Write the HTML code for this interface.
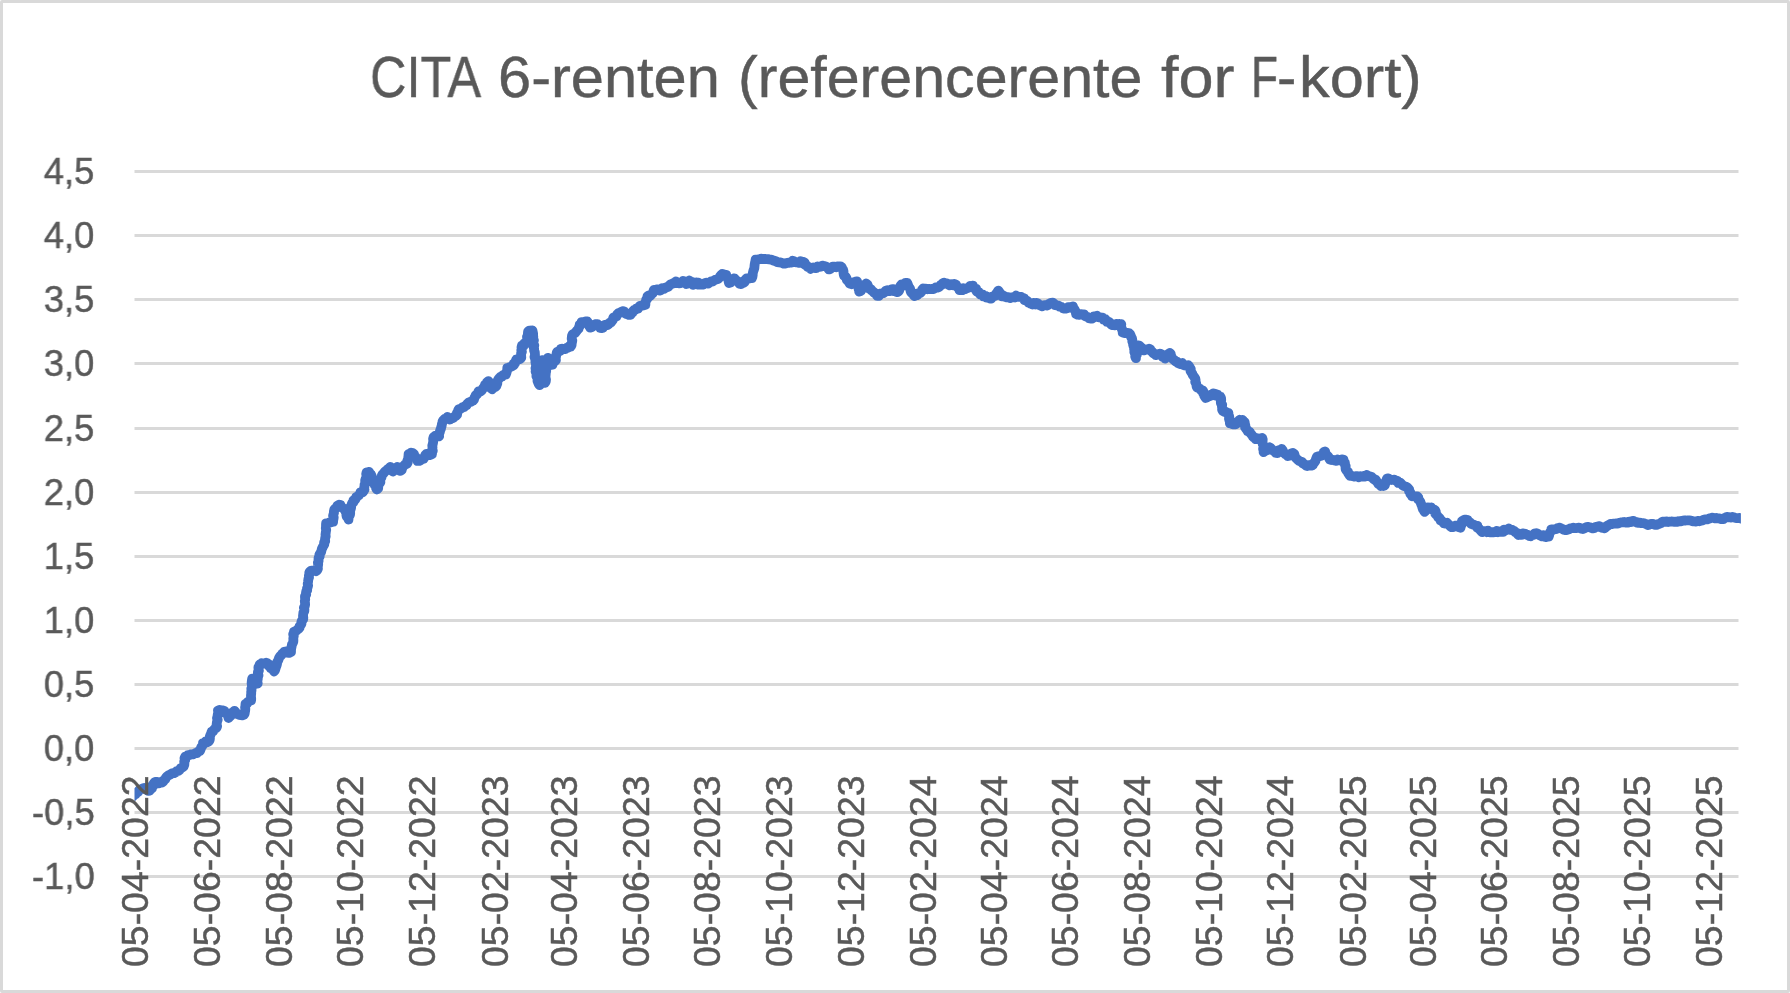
<!DOCTYPE html>
<html><head><meta charset="utf-8"><title>CITA 6-renten</title>
<style>
html,body{margin:0;padding:0;background:#fff}
body{width:1790px;height:993px;position:relative;overflow:hidden;font-family:"Liberation Sans",sans-serif;color:#595959;-webkit-text-stroke:0.45px #595959}
#frame{position:absolute;left:0;top:0;width:1784px;height:987px;border:3px solid #d9d9d9;border-radius:2px;background:#fff}
svg{position:absolute;left:0;top:0}
.tw{position:absolute;top:48.20px;font-size:58px;line-height:58px;height:58px;white-space:pre;transform-origin:0 0}
.yl,.xl,.tw{will-change:transform}
.yl{position:absolute;right:1695.3px;font-size:37px;line-height:37px;height:37px;white-space:pre;transform-origin:100% 0;transform:scaleX(0.985)}
.xl{position:absolute;top:966.8px;font-size:37px;line-height:37px;height:37px;white-space:pre;transform-origin:0 0;transform:rotate(-90deg) scaleX(1.012)}
</style></head>
<body>
<div id="frame"></div>
<svg width="1790" height="993" viewBox="0 0 1790 993">
<g stroke="#d9d9d9" stroke-width="3" fill="none"><line x1="134.5" x2="1738.5" y1="171.50" y2="171.50"/><line x1="134.5" x2="1738.5" y1="235.50" y2="235.50"/><line x1="134.5" x2="1738.5" y1="299.50" y2="299.50"/><line x1="134.5" x2="1738.5" y1="363.50" y2="363.50"/><line x1="134.5" x2="1738.5" y1="428.50" y2="428.50"/><line x1="134.5" x2="1738.5" y1="492.50" y2="492.50"/><line x1="134.5" x2="1738.5" y1="556.50" y2="556.50"/><line x1="134.5" x2="1738.5" y1="620.50" y2="620.50"/><line x1="134.5" x2="1738.5" y1="684.50" y2="684.50"/><line x1="134.5" x2="1738.5" y1="748.50" y2="748.50"/><line x1="134.5" x2="1738.5" y1="812.50" y2="812.50"/><line x1="134.5" x2="1738.5" y1="876.50" y2="876.50"/></g>
<defs><clipPath id="c"><rect x="134.5" y="150" width="1606.4" height="700"/></clipPath></defs>
<path clip-path="url(#c)" d="M126.9,801.4 L127.9,799.9 L129.8,799.5 L130.4,797.7 L132.2,797.2 L133.3,795.9 L134.5,794.7 L135.9,794.0 L136.5,792.5 L138.1,792.0 L138.8,790.6 L139.9,789.6 L141.4,789.1 L142.5,788.5 L144.3,788.0 L145.7,788.6 L146.8,789.9 L148.1,790.9 L149.8,790.6 L150.5,789.2 L152.0,788.3 L151.6,786.3 L153.5,785.5 L153.5,783.8 L154.6,782.2 L156.1,781.8 L157.5,782.2 L159.0,783.2 L160.4,782.0 L161.9,782.6 L163.2,781.6 L164.0,780.1 L165.4,779.2 L166.0,777.5 L167.1,776.3 L168.4,775.3 L170.0,774.7 L171.3,773.8 L172.6,773.1 L174.2,773.1 L175.6,772.4 L176.7,771.1 L178.6,770.9 L179.8,769.7 L180.7,768.1 L182.3,767.6 L183.6,766.5 L184.3,764.9 L184.4,763.3 L184.2,761.6 L185.2,760.1 L184.5,758.3 L185.2,756.7 L186.8,756.7 L187.8,755.1 L189.5,755.2 L190.7,754.3 L192.5,754.4 L194.0,754.0 L195.4,753.1 L197.0,753.0 L198.1,751.5 L199.8,751.2 L200.4,749.9 L200.9,748.5 L201.3,747.1 L202.3,746.0 L203.0,744.7 L203.0,743.1 L204.5,743.0 L205.6,741.5 L207.3,742.3 L208.7,741.5 L209.7,740.0 L209.9,738.4 L209.8,736.6 L210.4,735.0 L211.1,733.5 L211.6,731.7 L213.2,731.1 L214.0,729.6 L215.1,728.5 L216.5,727.8 L217.1,726.2 L216.6,724.6 L216.8,723.0 L217.1,721.4 L217.7,719.8 L217.0,718.1 L217.5,716.5 L217.7,714.9 L218.1,713.3 L218.2,711.7 L218.0,710.5 L219.7,709.9 L221.4,710.3 L223.1,710.4 L224.5,711.0 L224.9,712.7 L226.7,713.5 L227.5,715.0 L228.2,716.5 L228.5,718.0 L229.6,716.9 L230.7,715.8 L231.3,714.3 L231.9,712.8 L233.3,712.0 L234.5,710.8 L235.5,712.0 L236.3,713.5 L237.8,714.2 L239.2,714.9 L240.8,715.1 L242.5,715.3 L243.9,714.9 L244.7,713.5 L244.9,711.9 L245.2,710.5 L245.3,708.9 L245.1,707.4 L245.4,705.9 L245.5,704.1 L247.0,703.8 L247.5,702.2 L248.6,701.4 L249.9,700.8 L251.1,700.4 L251.2,698.7 L251.0,697.0 L251.0,695.4 L251.2,693.7 L251.2,692.0 L251.5,690.4 L251.3,688.7 L252.1,687.1 L252.0,685.4 L251.6,683.7 L251.7,682.0 L251.9,680.4 L252.2,678.6 L253.6,679.2 L253.9,681.1 L254.9,682.2 L256.6,682.5 L257.7,683.5 L257.4,681.9 L257.5,680.3 L257.8,678.7 L257.8,677.0 L258.5,675.5 L257.9,673.8 L257.9,672.2 L258.9,670.6 L258.5,669.0 L258.4,667.3 L259.5,666.2 L259.6,664.6 L261.0,663.8 L261.7,663.1 L263.1,663.5 L264.5,663.4 L266.1,662.7 L267.5,663.3 L268.7,664.2 L268.9,666.0 L270.1,666.9 L270.8,668.3 L272.3,668.9 L273.3,670.0 L274.1,671.5 L275.1,670.1 L275.5,668.6 L276.0,667.0 L276.6,665.5 L277.0,664.0 L277.0,662.3 L277.9,660.9 L278.6,659.4 L279.1,657.8 L280.0,656.4 L281.3,655.2 L282.2,653.8 L283.6,652.8 L284.2,651.8 L285.9,651.4 L287.4,652.6 L289.1,652.9 L291.0,652.1 L291.0,650.6 L291.1,649.0 L291.4,647.5 L291.7,646.0 L292.0,644.5 L292.7,643.1 L293.3,641.6 L293.4,640.0 L293.3,638.6 L293.5,637.1 L293.8,635.7 L293.2,634.2 L293.9,632.8 L294.0,631.7 L295.3,631.3 L296.5,630.6 L297.5,629.6 L298.5,628.9 L299.6,627.7 L299.6,626.1 L300.8,624.9 L301.5,623.6 L301.4,621.9 L302.0,620.5 L303.2,619.3 L303.3,617.7 L303.0,616.0 L303.2,614.3 L303.4,612.7 L304.3,611.1 L304.4,609.4 L303.9,607.7 L304.8,606.1 L305.1,604.5 L305.0,602.8 L304.8,601.1 L305.2,599.4 L305.0,597.7 L305.0,596.1 L306.2,594.5 L306.0,592.8 L306.3,591.4 L307.2,590.1 L307.0,588.5 L307.7,587.1 L308.1,585.5 L307.7,583.8 L308.0,582.2 L308.2,580.6 L308.4,579.0 L309.0,577.5 L308.9,575.8 L309.3,574.2 L309.3,572.6 L309.9,571.4 L311.3,570.6 L312.8,570.6 L314.3,570.7 L315.8,571.2 L317.2,570.2 L317.9,568.7 L317.7,567.1 L318.0,565.6 L318.2,564.1 L317.9,562.5 L318.6,561.0 L318.5,559.4 L318.6,557.9 L319.7,556.5 L319.4,554.8 L320.2,553.4 L321.1,552.0 L321.5,550.4 L321.9,548.7 L322.7,547.3 L323.4,545.8 L324.3,544.4 L324.1,542.5 L325.2,541.2 L325.0,539.6 L325.2,538.0 L325.7,536.4 L325.5,534.7 L325.7,533.1 L325.9,531.5 L326.2,529.9 L325.8,528.3 L326.0,526.6 L326.0,525.0 L326.1,523.4 L327.5,523.4 L328.8,522.7 L330.2,522.5 L331.5,522.1 L333.1,521.8 L333.2,520.3 L333.5,518.8 L333.7,517.3 L333.1,515.8 L333.5,514.3 L334.0,512.8 L333.9,511.5 L334.3,509.6 L335.4,508.4 L336.8,507.4 L337.4,505.7 L339.1,504.7 L340.6,505.1 L341.2,506.8 L342.3,507.7 L343.4,508.7 L345.2,508.8 L345.2,510.5 L345.7,512.0 L346.8,513.3 L346.4,515.0 L346.7,516.6 L348.1,517.8 L348.5,519.5 L348.5,517.8 L349.0,516.2 L350.0,514.7 L350.2,513.0 L349.8,511.2 L350.5,509.7 L351.0,508.1 L351.2,506.4 L351.5,504.7 L352.1,503.1 L353.4,502.3 L353.5,500.4 L355.1,499.8 L355.8,498.6 L356.2,497.0 L357.6,496.2 L358.8,495.3 L359.8,494.1 L360.4,492.4 L362.6,492.4 L363.5,491.1 L364.5,489.6 L364.1,488.0 L364.5,486.5 L364.5,484.9 L365.5,483.5 L365.2,481.8 L365.2,480.3 L365.7,478.8 L366.5,477.3 L366.6,475.7 L366.2,474.1 L366.6,472.3 L368.2,473.0 L369.1,471.8 L369.5,473.4 L371.0,474.5 L371.7,476.0 L371.6,477.8 L372.6,479.2 L373.7,480.5 L373.3,482.4 L374.3,483.7 L374.8,485.3 L376.4,486.4 L376.1,488.3 L376.9,489.5 L378.2,488.2 L378.2,486.5 L378.6,485.0 L379.4,483.5 L380.4,482.2 L380.1,480.4 L380.5,478.8 L381.5,477.4 L381.8,475.8 L382.5,474.4 L383.6,473.3 L384.5,472.1 L385.7,471.1 L386.8,470.1 L387.8,469.0 L389.4,468.4 L390.2,466.9 L390.9,468.2 L392.1,469.1 L392.7,470.5 L393.0,471.6 L394.0,470.3 L394.7,468.9 L396.6,468.4 L397.3,467.0 L398.5,467.7 L399.0,469.0 L399.2,470.4 L400.4,470.9 L401.8,469.8 L402.1,468.2 L403.0,466.8 L403.9,465.7 L404.8,464.7 L405.9,464.3 L407.1,463.8 L407.8,462.3 L407.4,460.5 L408.2,459.0 L408.3,457.4 L408.5,455.7 L408.6,454.0 L409.9,453.5 L411.1,452.7 L412.8,453.1 L414.0,454.2 L413.9,455.9 L415.4,456.7 L416.3,457.9 L417.2,459.0 L417.6,460.9 L419.3,460.9 L420.8,460.1 L422.2,458.9 L423.7,458.8 L424.2,457.6 L425.0,456.5 L425.3,455.1 L426.3,454.0 L427.7,453.6 L429.1,455.0 L430.6,455.0 L432.0,454.1 L431.9,452.4 L432.8,450.8 L432.3,449.0 L432.5,447.3 L432.3,445.6 L432.8,443.9 L433.1,442.3 L433.3,440.6 L433.1,438.9 L433.6,437.2 L434.9,436.0 L436.3,436.3 L437.7,435.8 L439.1,436.4 L439.0,434.8 L439.3,433.2 L439.9,431.8 L440.2,430.2 L440.9,428.8 L441.2,427.2 L441.7,425.7 L441.9,424.2 L442.3,422.7 L442.6,421.4 L443.5,420.0 L444.7,418.9 L446.6,418.8 L447.5,416.9 L448.2,418.6 L449.8,419.6 L450.4,418.0 L452.4,418.4 L453.7,417.6 L454.6,416.4 L455.9,415.8 L457.1,414.7 L456.9,413.1 L457.8,411.8 L458.2,410.4 L458.7,409.3 L460.1,408.9 L461.4,408.3 L462.5,407.2 L464.1,407.1 L465.1,405.9 L466.5,405.3 L467.4,403.7 L468.5,402.6 L470.0,402.0 L471.5,401.5 L472.8,400.8 L474.0,399.7 L474.3,398.1 L475.0,396.8 L475.6,395.4 L476.9,394.5 L477.9,393.2 L478.5,391.5 L480.6,391.4 L481.8,390.3 L482.7,388.9 L483.6,387.6 L484.7,386.5 L484.9,384.7 L486.6,384.0 L486.9,382.3 L488.4,381.1 L489.1,382.4 L489.1,384.0 L490.5,385.0 L490.5,386.7 L490.8,388.2 L492.1,389.2 L493.0,388.2 L494.1,387.6 L495.3,387.1 L496.3,386.1 L496.8,384.7 L497.3,383.4 L497.2,381.7 L497.8,380.4 L498.5,379.1 L499.4,378.1 L500.4,376.9 L502.0,376.7 L502.8,375.2 L504.1,374.6 L505.7,374.7 L506.4,373.1 L506.8,371.6 L507.2,369.9 L507.3,368.1 L508.8,367.7 L510.2,367.0 L511.6,366.4 L512.8,365.8 L514.1,364.9 L513.8,363.3 L515.4,362.5 L515.6,361.4 L516.4,359.4 L518.2,359.3 L520.0,359.1 L521.3,357.8 L521.2,356.3 L521.1,354.8 L521.1,353.2 L521.9,351.8 L521.3,350.2 L521.8,348.7 L521.5,347.2 L521.9,345.7 L523.7,345.6 L524.2,343.5 L526.1,343.3 L526.3,341.7 L527.0,340.2 L527.2,338.5 L527.0,336.8 L528.1,335.3 L527.9,333.6 L528.1,331.6 L529.3,330.6 L531.0,330.9 L532.4,330.4 L532.8,332.1 L533.1,333.7 L533.1,335.4 L533.3,337.1 L532.9,338.8 L533.9,340.4 L533.3,342.1 L533.4,343.8 L534.3,345.4 L533.7,347.2 L534.1,348.8 L534.1,350.5 L534.8,352.1 L534.9,353.8 L535.0,355.4 L534.5,357.0 L535.1,358.6 L535.4,360.2 L535.4,361.8 L535.7,363.4 L536.0,365.0 L536.1,366.6 L535.5,368.3 L536.2,369.9 L535.6,371.5 L536.4,373.1 L536.5,374.7 L536.4,376.3 L537.3,377.6 L537.6,379.2 L537.5,380.9 L538.1,382.4 L538.7,383.9 L539.7,385.2 L540.2,383.6 L540.4,381.9 L540.1,380.2 L540.5,378.6 L539.9,376.8 L540.8,375.2 L540.7,373.5 L541.1,371.9 L541.2,370.2 L541.0,368.5 L540.9,366.8 L541.9,365.2 L541.3,363.5 L541.8,361.9 L542.1,360.2 L542.4,361.8 L542.2,363.5 L542.2,365.1 L543.2,366.6 L543.0,368.3 L543.6,369.9 L543.5,371.5 L543.9,373.1 L544.4,374.7 L544.6,376.3 L544.8,377.9 L544.3,379.6 L545.0,381.2 L545.1,382.8 L545.8,381.2 L546.0,379.5 L545.6,377.8 L545.5,376.1 L545.7,374.4 L545.8,372.8 L546.2,371.1 L546.1,369.4 L546.4,367.8 L546.6,366.1 L547.1,364.5 L547.6,362.8 L547.6,361.2 L547.4,359.5 L547.8,357.8 L548.3,359.3 L549.1,360.7 L549.8,362.1 L550.8,363.4 L550.8,365.0 L552.4,364.7 L552.4,362.7 L553.8,362.2 L554.9,361.3 L555.9,360.2 L555.6,358.7 L555.9,357.2 L556.1,355.8 L556.5,354.3 L556.7,352.9 L557.2,351.8 L558.6,351.5 L560.0,351.1 L560.8,349.0 L562.1,348.6 L563.9,349.1 L565.5,349.1 L566.7,347.9 L568.2,347.6 L569.3,346.1 L570.9,346.5 L571.6,345.0 L571.7,343.5 L572.0,342.0 L572.3,340.5 L571.7,338.9 L571.8,337.4 L572.0,335.9 L572.6,334.4 L574.0,333.5 L575.4,332.7 L576.3,331.3 L577.3,330.1 L578.5,328.9 L578.9,327.5 L579.6,326.3 L579.6,324.7 L581.2,323.9 L581.5,322.1 L583.0,323.0 L584.3,322.3 L585.6,321.4 L587.3,321.5 L588.1,322.7 L588.2,324.2 L588.8,325.6 L590.2,326.5 L590.2,327.7 L591.5,327.2 L592.7,326.5 L593.6,325.4 L594.6,324.4 L595.9,324.1 L597.6,324.1 L598.4,325.3 L599.4,326.3 L600.0,327.9 L601.7,328.1 L603.0,327.7 L603.6,326.4 L604.4,325.2 L605.6,324.6 L607.4,325.0 L608.7,324.0 L609.8,322.7 L611.0,322.3 L611.9,321.2 L612.7,320.1 L613.0,318.7 L613.6,317.3 L615.1,316.8 L616.7,316.3 L617.2,314.4 L618.3,313.2 L619.9,312.7 L621.2,311.9 L622.5,311.2 L624.2,311.4 L624.9,313.2 L626.2,313.9 L627.7,314.3 L628.8,314.9 L630.6,314.8 L631.0,313.0 L632.6,312.7 L633.0,311.0 L634.1,310.1 L635.6,309.7 L636.3,308.4 L638.1,308.5 L638.7,307.1 L639.8,306.0 L641.1,305.6 L642.5,305.5 L643.9,305.4 L645.4,304.7 L645.2,302.9 L645.9,301.4 L646.2,299.7 L647.6,298.4 L647.4,296.3 L648.9,295.3 L650.5,295.7 L651.3,294.4 L652.6,293.4 L653.2,292.1 L653.6,290.7 L653.9,289.8 L655.3,290.3 L656.8,289.4 L658.3,289.3 L659.7,290.5 L661.2,290.0 L662.3,288.2 L664.2,288.8 L665.5,287.7 L666.9,287.2 L668.4,286.8 L669.3,285.5 L670.4,284.4 L671.9,283.9 L673.1,283.2 L675.0,283.1 L675.9,281.3 L676.4,283.0 L678.2,282.4 L678.9,283.4 L680.6,283.2 L682.0,282.3 L683.0,281.0 L684.7,281.5 L685.4,283.1 L686.4,284.1 L688.0,283.4 L688.1,281.5 L689.5,280.5 L689.8,282.0 L691.8,282.0 L692.2,283.4 L693.1,284.8 L694.4,284.4 L695.1,282.6 L696.9,282.5 L698.2,282.7 L698.5,284.7 L699.9,284.4 L701.7,284.7 L703.4,284.6 L704.8,283.1 L706.4,282.6 L708.3,283.5 L709.7,282.3 L711.0,281.3 L712.7,281.6 L713.9,280.4 L715.3,279.8 L716.6,279.4 L718.2,278.8 L719.4,277.7 L720.1,276.2 L720.9,275.3 L722.3,273.9 L723.8,274.4 L725.2,274.9 L726.3,275.0 L726.6,276.7 L727.7,278.1 L728.3,279.7 L728.6,281.4 L729.0,283.0 L730.6,282.6 L730.9,280.6 L732.7,280.5 L733.8,279.4 L734.4,278.3 L735.2,279.5 L736.4,280.5 L737.8,281.3 L738.7,282.5 L739.5,283.7 L740.9,284.1 L742.0,282.4 L743.3,282.9 L744.6,282.2 L744.8,280.7 L745.4,279.5 L746.6,278.4 L748.4,278.7 L749.9,278.0 L751.9,278.2 L752.4,276.8 L752.7,275.2 L752.7,273.7 L753.0,272.2 L753.4,270.7 L754.0,269.3 L754.4,267.7 L754.5,266.1 L754.7,264.4 L755.0,262.8 L755.4,261.2 L755.6,259.7 L757.0,259.6 L758.4,259.5 L759.8,259.1 L761.2,258.6 L762.8,259.2 L764.5,258.8 L766.1,259.2 L767.7,259.1 L769.3,259.4 L771.0,259.6 L772.6,260.2 L774.2,260.7 L775.8,261.2 L777.3,262.2 L778.9,262.4 L780.6,262.5 L782.2,262.9 L783.7,263.7 L785.4,263.6 L786.8,262.9 L788.4,262.9 L789.8,262.3 L791.5,262.6 L792.7,260.8 L794.2,261.4 L795.8,262.4 L797.5,262.3 L798.9,262.8 L800.3,261.1 L801.7,261.6 L803.3,261.8 L804.7,262.7 L805.0,264.8 L806.7,265.4 L807.5,266.9 L809.3,267.3 L810.5,268.9 L811.8,268.1 L813.2,267.4 L814.8,268.1 L816.4,268.1 L817.6,266.5 L819.2,266.9 L820.9,266.7 L822.4,265.7 L824.2,266.0 L825.7,266.4 L826.8,267.3 L827.9,268.1 L828.9,269.4 L830.4,269.0 L831.5,267.6 L832.7,266.6 L834.5,266.7 L836.0,267.3 L837.4,266.3 L838.9,266.5 L840.3,266.3 L841.6,266.9 L842.1,268.4 L843.1,269.7 L843.5,271.2 L843.5,272.7 L843.7,274.2 L844.1,275.8 L845.6,276.7 L846.5,278.1 L846.8,279.9 L848.0,281.0 L849.1,282.3 L849.7,283.6 L851.5,284.2 L852.6,282.5 L854.2,282.5 L855.6,281.6 L857.1,281.4 L857.0,283.0 L857.2,284.5 L858.3,285.8 L858.8,287.3 L858.6,288.9 L859.5,290.2 L859.2,291.6 L860.9,291.1 L861.2,289.4 L862.6,288.7 L863.0,287.1 L864.5,286.5 L864.9,284.9 L866.1,283.6 L867.5,284.4 L867.8,286.1 L868.7,287.3 L869.3,288.7 L871.0,289.2 L871.7,290.6 L873.1,291.4 L874.0,292.7 L875.5,293.3 L876.4,294.6 L877.2,295.9 L879.0,295.8 L879.8,293.6 L881.6,293.4 L883.3,293.1 L884.6,292.2 L885.8,290.8 L887.2,290.2 L889.1,291.2 L890.6,290.8 L891.7,289.4 L893.3,289.1 L894.0,291.1 L895.7,290.6 L896.6,292.1 L898.3,291.8 L899.2,290.5 L899.1,288.7 L900.5,287.6 L900.4,285.9 L901.4,284.5 L903.0,284.9 L904.4,284.4 L905.4,282.8 L907.2,282.9 L907.8,284.4 L908.3,285.9 L909.1,287.3 L910.0,288.6 L910.4,290.1 L910.7,291.5 L911.3,292.8 L913.2,293.2 L913.4,294.8 L914.4,296.1 L915.2,294.5 L917.2,295.1 L917.8,293.3 L919.5,293.4 L920.7,292.6 L921.7,291.4 L922.1,289.8 L923.1,288.5 L924.6,288.9 L926.1,288.7 L927.5,289.3 L929.0,289.0 L930.5,289.1 L931.8,289.0 L933.4,289.1 L934.7,288.3 L935.8,287.3 L937.5,287.7 L938.9,287.2 L940.0,286.2 L940.7,285.0 L942.0,284.6 L942.6,283.3 L944.2,282.7 L945.6,283.5 L947.2,283.5 L948.3,284.7 L949.7,285.4 L951.2,284.3 L953.0,285.3 L954.5,284.0 L956.1,284.7 L956.7,286.2 L957.8,287.4 L959.2,288.5 L959.4,290.2 L960.7,289.5 L962.5,290.2 L963.4,288.2 L965.2,289.1 L966.6,288.4 L967.9,287.9 L969.2,287.6 L970.1,286.0 L971.9,287.0 L972.9,285.6 L973.2,287.2 L974.2,288.3 L976.1,288.7 L976.2,290.5 L976.9,291.7 L978.9,292.0 L979.4,293.5 L980.6,294.7 L982.6,294.4 L983.5,296.4 L985.5,296.0 L986.5,297.6 L988.6,297.2 L989.8,298.5 L991.4,298.5 L992.1,296.7 L993.4,296.1 L994.9,295.9 L996.1,295.1 L996.2,293.7 L997.1,292.6 L997.7,291.4 L998.4,290.6 L999.3,292.0 L999.8,293.5 L1001.5,294.4 L1001.8,296.4 L1003.6,295.7 L1005.1,296.8 L1006.6,297.3 L1008.4,297.1 L1010.0,298.1 L1011.5,297.5 L1013.2,297.2 L1014.9,297.5 L1016.2,295.7 L1017.8,296.6 L1019.5,296.9 L1021.3,297.0 L1022.6,297.9 L1024.2,298.3 L1024.6,300.2 L1026.2,300.5 L1027.6,301.2 L1028.3,302.6 L1029.8,303.1 L1030.9,303.8 L1032.4,304.4 L1033.7,302.9 L1035.3,304.3 L1036.6,303.0 L1038.0,303.4 L1038.6,304.8 L1040.1,305.0 L1041.0,305.9 L1042.2,306.3 L1043.6,305.3 L1045.2,305.1 L1046.8,305.5 L1048.1,305.1 L1048.9,304.0 L1050.0,303.3 L1050.8,302.8 L1052.8,302.7 L1054.1,303.7 L1055.1,305.1 L1056.9,305.3 L1058.5,305.5 L1059.7,306.7 L1061.3,306.9 L1062.6,308.0 L1063.8,308.6 L1065.4,308.7 L1066.9,308.3 L1068.2,307.1 L1069.9,307.5 L1071.3,306.9 L1073.0,306.4 L1072.9,308.2 L1074.4,309.3 L1075.2,310.7 L1075.9,312.1 L1076.0,313.9 L1077.5,314.7 L1079.1,314.8 L1080.8,314.2 L1082.5,314.4 L1084.2,314.4 L1085.0,316.2 L1086.4,316.7 L1087.9,317.0 L1089.0,318.2 L1090.5,318.6 L1092.1,318.7 L1093.1,317.8 L1093.9,316.4 L1095.2,316.6 L1097.0,315.8 L1098.1,317.2 L1099.5,317.4 L1101.0,317.5 L1102.5,317.7 L1103.4,319.5 L1105.3,319.1 L1106.1,320.4 L1106.9,321.9 L1109.0,321.8 L1110.1,322.8 L1110.9,324.3 L1112.2,325.1 L1113.7,325.2 L1115.2,325.4 L1116.6,324.0 L1118.1,324.1 L1119.6,324.0 L1121.3,324.2 L1121.0,325.9 L1121.4,327.5 L1121.8,329.1 L1122.9,330.6 L1122.7,332.6 L1124.3,333.0 L1126.0,332.6 L1127.5,333.4 L1129.2,333.1 L1130.1,334.3 L1130.8,335.7 L1131.2,337.1 L1132.0,338.4 L1132.3,339.9 L1132.3,341.5 L1133.1,342.8 L1133.1,344.4 L1133.5,345.9 L1134.2,347.4 L1134.1,348.9 L1134.5,350.4 L1134.3,352.0 L1134.9,353.5 L1135.4,355.0 L1135.2,356.6 L1135.9,358.2 L1135.7,356.4 L1136.8,355.0 L1136.3,353.1 L1136.9,351.6 L1137.3,350.0 L1138.3,348.5 L1138.9,346.9 L1138.7,345.3 L1140.0,346.0 L1140.3,347.6 L1141.9,347.9 L1143.0,348.7 L1143.8,350.4 L1145.2,349.8 L1146.6,349.6 L1148.0,349.1 L1149.0,348.7 L1150.4,349.4 L1151.0,351.0 L1152.3,351.9 L1153.1,353.2 L1154.7,353.7 L1155.7,355.1 L1157.1,354.8 L1158.5,354.1 L1159.9,353.7 L1161.3,354.2 L1162.9,354.9 L1162.9,356.9 L1164.8,357.3 L1165.1,358.7 L1165.7,357.4 L1167.5,357.0 L1167.6,355.3 L1168.2,354.0 L1169.7,353.0 L1170.8,354.0 L1170.8,355.8 L1171.7,357.0 L1172.4,358.2 L1173.2,359.5 L1174.5,360.1 L1175.5,361.3 L1177.0,361.5 L1177.9,363.0 L1179.2,363.6 L1180.6,364.1 L1182.4,363.2 L1183.5,365.1 L1185.0,365.5 L1186.4,365.8 L1188.3,365.2 L1189.2,366.4 L1190.0,367.7 L1190.8,369.0 L1190.5,370.9 L1191.3,372.2 L1192.2,373.5 L1192.7,374.9 L1193.6,376.1 L1194.6,377.4 L1195.3,378.8 L1195.6,380.3 L1195.2,382.0 L1196.2,383.3 L1196.4,384.9 L1196.6,386.4 L1197.1,387.5 L1198.5,388.1 L1199.9,388.7 L1201.0,390.1 L1202.7,390.3 L1203.4,391.5 L1203.1,393.2 L1204.2,394.3 L1204.3,395.8 L1205.1,397.0 L1205.6,397.9 L1206.9,397.4 L1208.1,396.6 L1209.7,396.3 L1210.4,394.9 L1212.0,394.6 L1213.0,393.5 L1214.7,393.6 L1215.6,395.4 L1217.7,394.7 L1218.6,396.6 L1220.5,396.7 L1221.1,398.2 L1221.2,399.9 L1220.8,401.6 L1220.9,403.2 L1222.2,404.7 L1221.9,406.4 L1222.2,408.0 L1222.1,409.6 L1222.8,410.9 L1224.1,411.6 L1225.6,411.7 L1226.7,413.0 L1228.4,412.8 L1228.1,414.4 L1229.0,415.8 L1229.3,417.3 L1229.0,418.8 L1229.4,420.3 L1230.1,421.7 L1229.9,423.4 L1231.4,422.7 L1232.7,424.3 L1234.1,424.3 L1235.8,424.3 L1236.8,423.3 L1237.4,421.9 L1238.5,421.0 L1239.6,420.0 L1240.8,421.1 L1242.4,419.8 L1243.4,421.0 L1244.7,422.3 L1244.9,424.0 L1245.4,425.6 L1245.1,427.4 L1246.1,428.9 L1247.3,429.8 L1247.8,431.5 L1249.6,431.8 L1250.4,433.2 L1251.4,434.4 L1252.3,435.5 L1253.0,436.7 L1253.9,437.5 L1255.1,438.2 L1255.7,439.2 L1257.2,438.3 L1259.1,439.3 L1260.7,438.5 L1262.1,437.8 L1262.7,439.4 L1262.6,441.0 L1262.5,442.7 L1262.8,444.3 L1263.5,445.8 L1263.3,447.5 L1263.1,449.1 L1263.9,450.7 L1263.6,452.1 L1264.7,451.1 L1266.3,450.6 L1267.5,449.9 L1267.9,448.0 L1269.6,447.3 L1270.8,448.1 L1271.8,449.1 L1272.6,450.3 L1274.1,450.8 L1275.0,451.9 L1275.7,452.9 L1277.5,453.0 L1278.4,451.8 L1278.8,450.1 L1280.9,450.6 L1281.7,448.9 L1282.7,450.2 L1283.0,452.0 L1284.3,453.0 L1285.5,454.2 L1286.9,455.0 L1287.7,456.1 L1289.3,455.7 L1290.0,454.1 L1291.3,453.5 L1292.9,453.0 L1294.3,454.0 L1294.8,455.6 L1295.3,457.3 L1296.4,458.5 L1297.6,459.6 L1298.8,460.7 L1300.3,461.4 L1302.0,461.9 L1302.9,463.5 L1304.4,464.1 L1305.7,465.4 L1307.1,466.0 L1308.6,465.1 L1310.0,465.3 L1311.5,465.7 L1312.9,465.2 L1313.2,463.6 L1314.5,462.4 L1315.4,461.0 L1315.9,459.4 L1316.5,457.9 L1317.0,456.6 L1318.6,456.4 L1320.2,456.0 L1321.8,455.5 L1322.4,454.3 L1323.6,453.6 L1323.7,452.1 L1325.1,451.5 L1325.4,453.1 L1326.3,454.4 L1327.2,455.6 L1328.5,456.7 L1329.1,458.2 L1329.8,459.6 L1331.4,460.0 L1333.1,459.8 L1334.6,460.5 L1336.3,460.8 L1337.7,459.6 L1339.2,460.4 L1340.7,460.5 L1342.0,459.5 L1343.5,459.6 L1343.4,461.4 L1344.9,462.6 L1344.8,464.4 L1345.7,465.9 L1345.5,467.7 L1345.7,469.3 L1346.7,470.8 L1348.0,471.7 L1348.3,473.3 L1349.1,474.5 L1350.0,475.9 L1351.5,475.8 L1353.0,476.2 L1354.4,476.7 L1355.9,476.2 L1357.4,476.1 L1358.8,477.3 L1360.4,476.2 L1362.1,476.7 L1363.6,476.0 L1365.3,476.5 L1366.8,475.1 L1368.2,476.1 L1370.0,476.4 L1371.6,476.9 L1372.7,478.2 L1373.9,479.3 L1375.7,479.6 L1376.5,481.3 L1377.6,482.4 L1378.3,483.9 L1379.8,484.7 L1380.6,485.9 L1381.8,485.3 L1383.4,486.0 L1384.9,485.4 L1385.1,484.0 L1385.2,482.6 L1386.4,481.6 L1386.4,480.1 L1387.0,478.6 L1388.5,478.3 L1389.9,479.8 L1391.3,480.0 L1392.8,479.8 L1394.3,479.7 L1395.7,480.6 L1397.4,480.9 L1398.2,482.9 L1400.2,482.7 L1401.4,483.8 L1402.5,485.1 L1403.8,486.0 L1405.5,486.4 L1407.0,487.1 L1408.1,488.3 L1409.2,489.4 L1409.0,491.2 L1410.3,492.3 L1410.3,493.9 L1411.7,494.9 L1412.1,496.3 L1413.7,495.9 L1415.3,496.3 L1417.1,496.3 L1418.3,497.5 L1418.2,499.4 L1419.6,500.6 L1420.4,502.0 L1421.0,503.6 L1421.5,504.9 L1422.1,506.3 L1422.4,507.7 L1422.9,509.1 L1423.8,510.3 L1424.5,511.9 L1425.6,510.9 L1425.7,508.8 L1427.6,508.4 L1428.0,507.3 L1429.4,508.0 L1431.3,507.5 L1432.2,509.3 L1433.7,509.3 L1435.1,510.3 L1435.8,511.7 L1435.3,513.6 L1436.3,514.7 L1437.5,515.8 L1438.1,517.1 L1439.3,517.9 L1440.1,518.9 L1440.5,520.6 L1441.9,521.0 L1442.8,521.9 L1443.9,523.4 L1445.3,523.5 L1447.1,522.8 L1448.1,524.0 L1449.3,525.0 L1450.2,526.3 L1451.7,527.2 L1453.2,527.2 L1454.5,526.4 L1455.5,525.7 L1457.1,525.5 L1457.8,526.9 L1459.2,527.3 L1460.5,527.8 L1460.7,526.2 L1461.6,524.7 L1461.7,523.0 L1461.9,521.2 L1463.2,520.4 L1464.5,519.6 L1466.1,519.7 L1467.8,520.1 L1468.5,521.7 L1470.1,522.3 L1470.9,523.8 L1472.5,524.3 L1474.1,524.9 L1475.5,525.6 L1477.4,525.9 L1477.5,527.9 L1479.0,528.6 L1480.0,529.7 L1480.9,530.9 L1482.2,532.1 L1483.6,531.4 L1485.0,531.2 L1486.5,532.1 L1488.0,530.6 L1489.0,531.8 L1490.4,532.3 L1491.7,532.2 L1493.1,532.4 L1494.4,532.1 L1495.7,532.2 L1496.7,530.8 L1498.1,532.2 L1499.9,531.6 L1501.5,531.8 L1503.2,531.9 L1504.0,529.7 L1506.0,530.3 L1507.4,529.5 L1508.8,528.5 L1509.9,529.8 L1511.6,529.6 L1513.0,530.4 L1514.4,531.0 L1515.1,532.3 L1516.7,532.7 L1517.5,534.0 L1518.4,535.0 L1519.9,534.8 L1521.4,534.9 L1522.6,533.4 L1524.0,533.7 L1525.4,533.9 L1526.5,534.7 L1527.9,534.9 L1528.9,535.9 L1530.6,536.3 L1531.9,535.2 L1533.4,534.9 L1534.6,533.6 L1536.2,533.2 L1537.7,533.7 L1538.9,534.8 L1540.3,535.5 L1541.8,536.2 L1543.3,535.1 L1544.6,536.7 L1546.0,537.1 L1547.6,536.6 L1548.7,536.6 L1549.2,535.2 L1549.4,533.6 L1550.1,532.2 L1551.4,531.0 L1551.4,529.5 L1552.9,529.4 L1554.4,529.3 L1556.0,529.2 L1557.3,528.3 L1558.7,527.9 L1559.9,527.7 L1561.2,528.4 L1562.6,529.0 L1563.8,529.7 L1565.2,530.1 L1566.6,530.0 L1567.8,529.4 L1569.2,529.3 L1570.4,528.3 L1571.8,528.2 L1573.4,527.7 L1575.1,528.2 L1576.7,528.1 L1578.3,527.7 L1579.9,527.9 L1581.3,528.7 L1582.9,529.0 L1584.5,528.3 L1585.9,527.4 L1587.5,526.8 L1588.8,527.2 L1590.1,527.4 L1591.4,527.9 L1592.7,528.4 L1594.3,528.2 L1595.5,526.9 L1597.1,526.9 L1598.7,526.1 L1600.2,526.5 L1601.5,527.6 L1603.0,527.9 L1604.6,528.4 L1605.7,527.3 L1606.6,526.2 L1608.0,525.5 L1609.3,524.7 L1610.4,523.9 L1611.9,524.1 L1613.3,523.7 L1614.8,523.6 L1616.3,523.5 L1618.0,523.5 L1619.5,522.8 L1621.1,522.4 L1622.8,522.2 L1624.1,522.0 L1625.4,522.6 L1626.8,522.1 L1628.2,522.6 L1629.3,521.7 L1630.8,522.1 L1631.9,521.1 L1633.4,520.9 L1634.5,521.8 L1636.0,521.8 L1637.1,522.7 L1638.5,522.9 L1639.8,522.6 L1641.2,523.2 L1642.5,523.2 L1643.7,523.1 L1645.0,523.8 L1646.6,524.0 L1647.7,525.1 L1649.1,524.7 L1650.3,524.1 L1651.6,523.9 L1653.0,523.8 L1654.2,524.7 L1655.5,524.9 L1656.8,524.8 L1658.0,524.0 L1659.6,523.8 L1660.9,523.3 L1661.9,522.0 L1663.4,521.6 L1665.0,521.9 L1666.6,521.4 L1668.1,522.0 L1669.7,521.7 L1671.3,521.5 L1672.9,521.6 L1674.5,521.8 L1676.2,521.6 L1677.8,521.8 L1679.4,521.1 L1681.2,521.3 L1682.7,520.6 L1684.4,520.5 L1686.0,520.5 L1687.7,520.3 L1689.3,520.3 L1690.9,520.5 L1692.1,521.1 L1693.4,521.3 L1694.8,521.4 L1696.1,521.6 L1697.6,520.9 L1699.4,521.3 L1700.9,520.7 L1702.5,520.4 L1704.0,519.6 L1705.6,519.4 L1707.2,519.4 L1708.7,518.8 L1710.3,518.3 L1711.8,517.7 L1713.4,517.9 L1714.9,518.4 L1716.5,518.0 L1718.1,518.4 L1719.7,518.4 L1720.9,519.0 L1722.3,519.1 L1723.6,519.0 L1724.5,518.0 L1725.7,517.5 L1726.9,516.9 L1728.3,517.1 L1729.8,517.4 L1731.2,517.5 L1732.7,516.9 L1734.1,517.5 L1735.4,517.9 L1736.8,518.1 L1738.2,518.1 L1739.6,518.0 L1741.0,518.6 L1742.4,518.8 L1743.8,518.9 L1745.2,519.2 L1746.6,518.9 L1748.0,519.2" fill="none" stroke="#4472c4" stroke-width="9.8" stroke-linejoin="round" stroke-linecap="butt"/>
</svg>
<div id="title"><span class="tw" style="left:370.32px;transform:scaleX(0.8701)">CITA</span><span class="tw" style="left:498.23px;transform:scaleX(1.0271)">6-renten</span><span class="tw" style="left:737.63px;transform:scaleX(1.0197)">(referencerente</span><span class="tw" style="left:1160.66px;transform:scaleX(1.0857)">for</span><span class="tw" style="left:1250.67px;transform:scaleX(0.7621)">F</span><span class="tw" style="left:1277.3px;transform:scaleX(1.0)">-</span><span class="tw" style="left:1298.7px;transform:scaleX(1.0569)">kort)</span></div>
<div class="yl" style="top:152.78px">4,5</div><div class="yl" style="top:216.78px">4,0</div><div class="yl" style="top:280.78px">3,5</div><div class="yl" style="top:344.78px">3,0</div><div class="yl" style="top:409.78px">2,5</div><div class="yl" style="top:473.78px">2,0</div><div class="yl" style="top:537.78px">1,5</div><div class="yl" style="top:601.78px">1,0</div><div class="yl" style="top:665.78px">0,5</div><div class="yl" style="top:729.78px">0,0</div><div class="yl" style="top:793.78px">-0,5</div><div class="yl" style="top:857.78px">-1,0</div>
<div class="xl" style="left:117.28px">05-04-2022</div><div class="xl" style="left:188.92px">05-06-2022</div><div class="xl" style="left:260.57px">05-08-2022</div><div class="xl" style="left:332.21px">05-10-2022</div><div class="xl" style="left:403.86px">05-12-2022</div><div class="xl" style="left:476.68px">05-02-2023</div><div class="xl" style="left:545.97px">05-04-2023</div><div class="xl" style="left:617.62px">05-06-2023</div><div class="xl" style="left:689.26px">05-08-2023</div><div class="xl" style="left:760.91px">05-10-2023</div><div class="xl" style="left:832.55px">05-12-2023</div><div class="xl" style="left:905.37px">05-02-2024</div><div class="xl" style="left:975.84px">05-04-2024</div><div class="xl" style="left:1047.48px">05-06-2024</div><div class="xl" style="left:1119.13px">05-08-2024</div><div class="xl" style="left:1190.77px">05-10-2024</div><div class="xl" style="left:1262.42px">05-12-2024</div><div class="xl" style="left:1335.24px">05-02-2025</div><div class="xl" style="left:1404.53px">05-04-2025</div><div class="xl" style="left:1476.18px">05-06-2025</div><div class="xl" style="left:1547.82px">05-08-2025</div><div class="xl" style="left:1619.47px">05-10-2025</div><div class="xl" style="left:1691.11px">05-12-2025</div>
</body></html>
